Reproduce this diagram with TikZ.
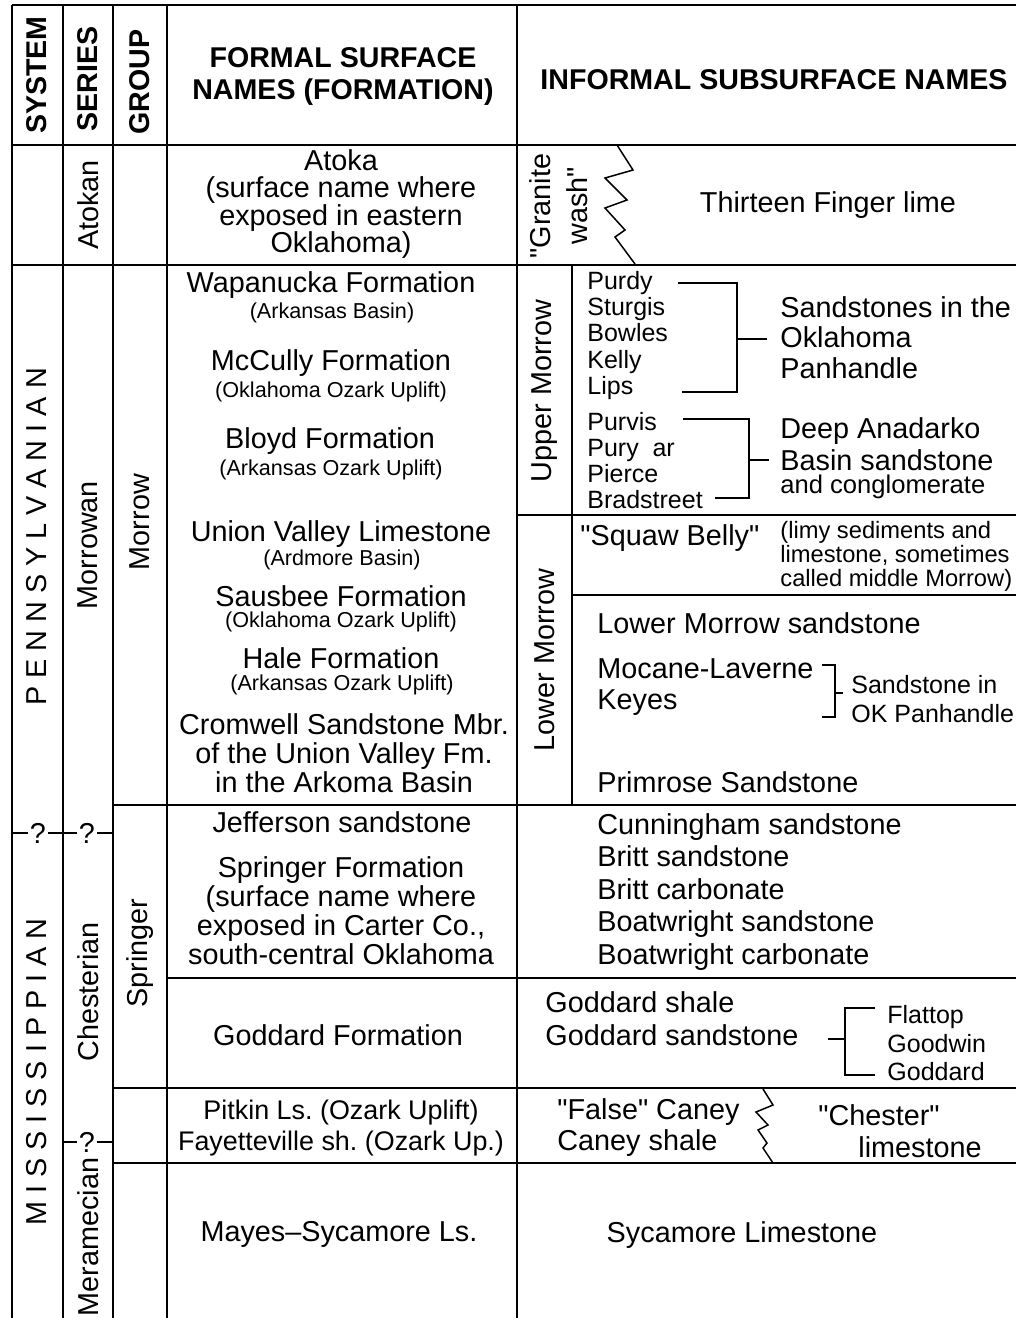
\documentclass[tikz,border=0pt]{standalone}
\usepackage{fontspec}
\setmainfont{Liberation Sans}[Ligatures=TeXOff]
\frenchspacing
\begin{document}
\begin{tikzpicture}[x=0.5pt,y=-0.5pt]
\tikzset{
  rule/.style={line width=1pt},
  thinrule/.style={line width=0.75pt},
  hdrtxt/.style={inner sep=0pt,align=center,font=\bfseries\fontsize{14.3}{16}\selectfont},
  txt/.style={inner sep=0pt,font=\fontsize{14.4}{#1}\selectfont},
  txt/.default=14.5,
  smalltxt/.style={inner sep=0pt,font=\fontsize{10.8}{12}\selectfont},
  listtxt/.style={inner sep=0pt,anchor=west,align=left,font=\fontsize{12.5}{#1}\selectfont},
  listtxt/.default=13.1,
  qmark/.style={inner sep=1pt,fill=white,font=\fontsize{14.4}{15}\selectfont}
}
\useasboundingbox (0,0) rectangle (1016,1318);
% grid of the chart
\foreach \x in {12,63,113,167,517}
  \draw[rule] (\x,5) -- (\x,1318);
\draw[rule] (572,265) -- (572,805);
\foreach \y in {5,145,265}
  \draw[rule] (12,\y) -- (1016,\y);
\draw[rule] (517,515) -- (1016,515);
\draw[rule] (572,595) -- (1016,595);
\draw[rule] (113,805) -- (1016,805);
\draw[rule] (167,978) -- (1016,978);
\draw[rule] (113,1088) -- (1016,1088);
\draw[rule] (113,1163) -- (1016,1163);
% uncertain boundaries
\draw[rule] (12,833) -- (113,833);
\draw[rule] (63,1142) -- (113,1142);
\node[qmark] (q_sys) at (38,833) {?};
\node[qmark] (q_ser) at (87,833) {?};
\node[qmark] (q_mer) at (87,1142) {?};

% header
\node[hdrtxt,rotate=90] (h_system) at (37,75) {SYSTEM};
\node[hdrtxt,rotate=90] (h_series) at (88,79) {SERIES};
\node[hdrtxt,rotate=90] (h_group) at (140,82) {GROUP};
\node[hdrtxt] (h_formal) at (343,76) {FORMAL SURFACE\\NAMES (FORMATION)};
\node[hdrtxt] (h_informal) at (774,80) {INFORMAL SUBSURFACE NAMES};

% system and series columns
\node[txt,rotate=90] (n_penn) at (37,537) {P E N N S Y L V A N I A N};
\node[txt,rotate=90] (n_miss) at (37,1072) {M I S S I S S I P P I A N};
\node[txt,rotate=90] (n_atokan) at (88,205) {Atokan};
\node[txt,rotate=90] (n_morrowan) at (88,545) {Morrowan};
\node[txt,rotate=90] (n_chesterian) at (88,992) {Chesterian};
\node[txt,rotate=90] (n_meramecian) at (88,1237) {Meramecian};
\node[txt,rotate=90] (n_morrow) at (140,522) {Morrow};
\node[txt,rotate=90] (n_springer) at (140,953) {Springer};

% formal surface names
\node[txt=13.65,align=center] (f_atoka) at (341,204) {Atoka\\(surface name where\\exposed in eastern\\Oklahoma)};
\node[txt] (f_wapanucka) at (331,285) {Wapanucka Formation};
\node[smalltxt] (f_wapanucka_loc) at (332,313) {(Arkansas Basin)};
\node[txt] (f_mccully) at (331,363) {McCully Formation};
\node[smalltxt] (f_mccully_loc) at (331,392) {(Oklahoma Ozark Uplift)};
\node[txt] (f_bloyd) at (330,441) {Bloyd Formation};
\node[smalltxt] (f_bloyd_loc) at (331,470) {(Arkansas Ozark Uplift)};
\node[txt] (f_union) at (341,534) {Union Valley Limestone};
\node[smalltxt] (f_union_loc) at (342,560) {(Ardmore Basin)};
\node[txt] (f_sausbee) at (341,596) {Sausbee Formation};
\node[smalltxt] (f_sausbee_loc) at (341,622) {(Oklahoma Ozark Uplift)};
\node[txt] (f_hale) at (341,658) {Hale Formation};
\node[smalltxt] (f_hale_loc) at (342,685) {(Arkansas Ozark Uplift)};
\node[txt=14.5,align=center] (f_cromwell) at (344,753) {Cromwell Sandstone Mbr.\\of the Union Valley Fm.\\in the Arkoma Basin};
\node[txt] (f_jefferson) at (342,822) {Jefferson sandstone};
\node[txt=14.5,align=center] (f_springer) at (341,911) {Springer Formation\\(surface name where\\exposed in Carter Co.,\\south-central Oklahoma};
\node[txt] (f_goddard) at (338,1035) {Goddard Formation};
\node[inner sep=0pt,align=center,font=\fontsize{13.45}{15.5}\selectfont] (f_pitkin) at (341,1128) {Pitkin Ls. (Ozark Uplift)\\Fayetteville sh. (Ozark Up.)};
\node[txt] (f_mayes) at (339,1234) {Mayes–Sycamore Ls.};

% informal subsurface names
\node[txt=18.5,rotate=90,align=center] (s_granite) at (559,206) {"Granite\\wash"};
\draw[thinrule] (617,145) -- (633,170) -- (605,178) -- (627,200) -- (605,208) -- (625,230) -- (615,237) -- (635,264);
\node[txt] (s_thirteen) at (828,205) {Thirteen Finger lime};

\node[txt,rotate=90] (s_upper) at (545,391) {Upper Morrow};
\node[listtxt] (s_purdy) at (587,335.5) {Purdy\\Sturgis\\Bowles\\Kelly\\Lips};
\node[listtxt=13] (s_purvis) at (587,461) {Purvis\\Pury\hspace{0.55em}ar\\Pierce\\Bradstreet};
\draw[thinrule] (678,283) -- (737,283) -- (737,392) -- (682,392);
\draw[thinrule] (737,339) -- (767,339);
\draw[thinrule] (683,419) -- (749,419) -- (749,498) -- (715,498);
\draw[thinrule] (749,460) -- (769,460);
\node[txt=15.25,anchor=west,align=left] (s_panhandle) at (780,337.5) {Sandstones in the\\Oklahoma\\Panhandle};
\node[txt=16,anchor=west,align=left] (s_anadarko) at (780,444) {Deep Anadarko\\Basin sandstone};
\node[inner sep=0pt,anchor=west,font=\fontsize{12.8}{13}\selectfont] (s_conglom) at (780,487) {and conglomerate};

\node[txt,rotate=90] (s_lower) at (545,660) {Lower Morrow};
\node[txt,anchor=west] (s_squaw) at (580,538) {"Squaw Belly"};
\node[inner sep=0pt,anchor=west,align=left,font=\fontsize{11.85}{12}\selectfont] (s_limy) at (780,556) {(limy sediments and\\limestone, sometimes\\called middle Morrow)};
\node[txt,anchor=west] (s_lmsand) at (597,623) {Lower Morrow sandstone};
\node[txt=15.5,anchor=west,align=left] (s_mocane) at (597,687.5) {Mocane-Laverne\\Keyes};
\draw[thinrule] (822,665) -- (835,665) -- (835,717) -- (822,717);
\draw[thinrule] (835,693) -- (843,693);
\node[listtxt=14.5] (s_okpan) at (851,699.5) {Sandstone in\\OK Panhandle};
\node[txt,anchor=west] (s_primrose) at (597,782) {Primrose Sandstone};

\node[txt=16.25,anchor=west,align=left] (s_cunningham) at (597,892) {Cunningham sandstone\\Britt sandstone\\Britt carbonate\\Boatwright sandstone\\Boatwright carbonate};
\node[txt=16.5,anchor=west,align=left] (s_goddard) at (545,1018.5) {Goddard shale\\Goddard sandstone};
\draw[thinrule] (828,1039) -- (845,1039);
\draw[thinrule] (875,1008) -- (845,1008) -- (845,1075) -- (875,1075);
\node[listtxt=14.25] (s_flattop) at (887,1043.5) {Flattop\\Goodwin\\Goddard};

\node[txt=15.5,anchor=west,align=left] (s_caney) at (557,1128) {"False" Caney\\Caney shale};
\draw[thinrule] (763,1089) -- (773,1105) -- (756,1112) -- (768,1125) -- (758,1130) -- (767,1143) -- (763,1148) -- (773,1163);
\node[txt,anchor=west] (s_chester) at (818,1115) {"Chester"};
\node[txt,anchor=west] (s_limestone) at (858,1147) {limestone};
\node[txt] (s_sycamore) at (742,1235) {Sycamore Limestone};
\end{tikzpicture}
\end{document}
